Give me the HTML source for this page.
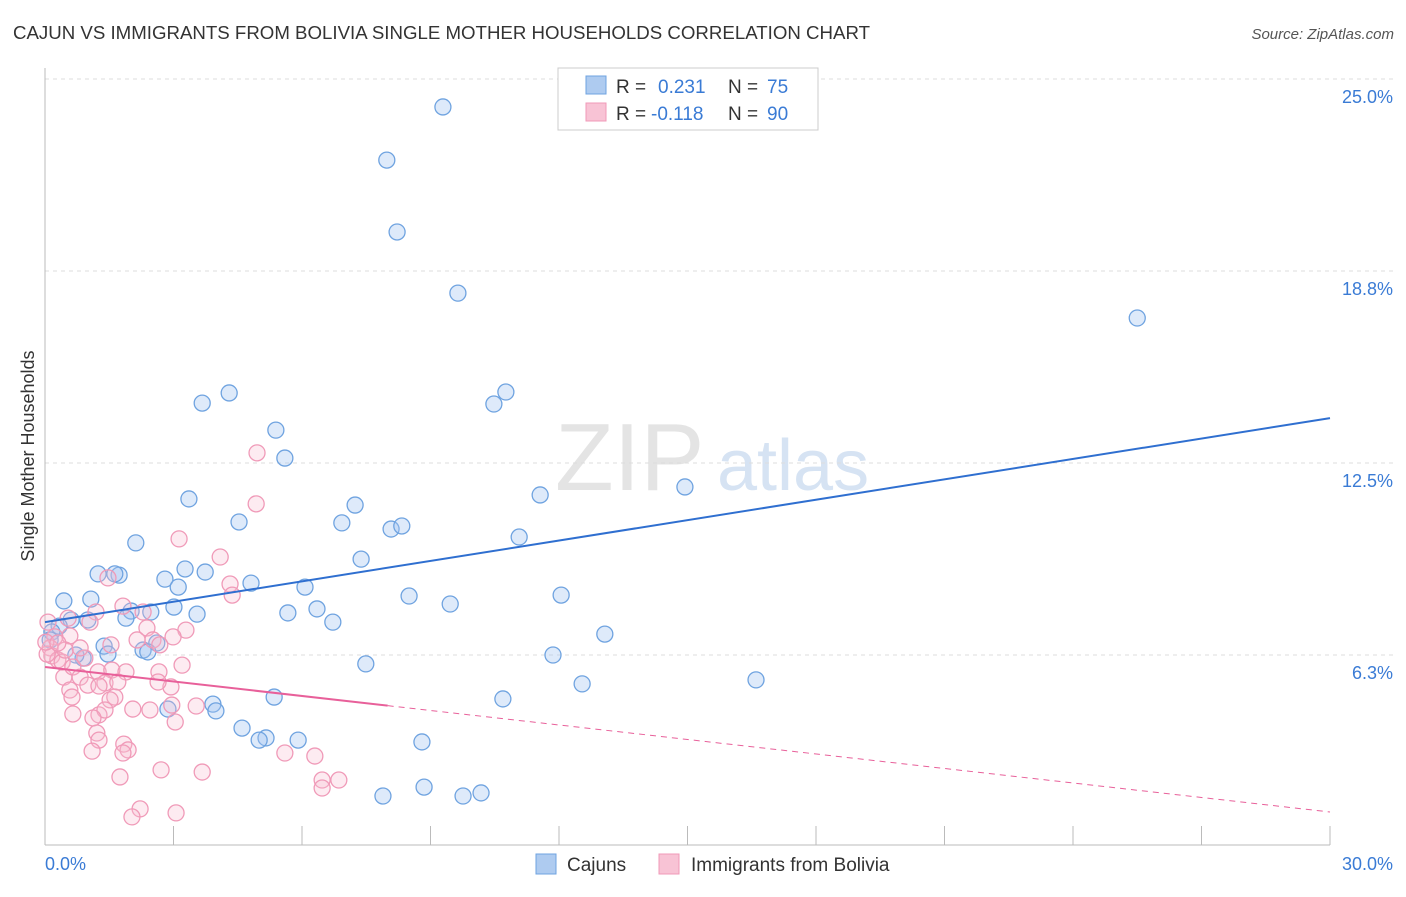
<!DOCTYPE html>
<html><head><meta charset="utf-8">
<style>
body{margin:0;background:#fff;font-family:"Liberation Sans",sans-serif;}
svg text{font-family:"Liberation Sans",sans-serif;}
</style></head>
<body>
<svg id="chart" width="1406" height="892" xmlns="http://www.w3.org/2000/svg">
<text x="13" y="39" font-size="18" fill="#333" textLength="857" lengthAdjust="spacingAndGlyphs">CAJUN VS IMMIGRANTS FROM BOLIVIA SINGLE MOTHER HOUSEHOLDS CORRELATION CHART</text>
<text x="1394" y="39" font-size="15" fill="#555" text-anchor="end" font-style="italic">Source: ZipAtlas.com</text>
<text transform="translate(34,456) rotate(-90)" font-size="18" fill="#333" text-anchor="middle">Single Mother Households</text>
<text x="555" y="490" font-size="96" fill="#e4e4e4" font-family="Liberation Serif">ZIP</text>
<text x="717" y="490" font-size="72" fill="#d6e3f3">atlas</text>
<g id="grid"></g><g id="marks"></g>
<g>
<rect x="558" y="68" width="260" height="62" fill="#fff" stroke="#ccc"/>
<rect x="586" y="76" width="20" height="18" fill="#aecbf0" stroke="#6fa3e0"/>
<rect x="586" y="103" width="20" height="18" fill="#f8c3d5" stroke="#f09ab8"/>
<text x="616" y="93" font-size="19" fill="#333">R =</text>
<text x="658" y="93" font-size="19" fill="#3a7bd5">0.231</text>
<text x="728" y="93" font-size="19" fill="#333">N =</text>
<text x="767" y="93" font-size="19" fill="#3a7bd5">75</text>
<text x="616" y="120" font-size="19" fill="#333">R =</text>
<text x="651" y="120" font-size="19" fill="#3a7bd5">-0.118</text>
<text x="728" y="120" font-size="19" fill="#333">N =</text>
<text x="767" y="120" font-size="19" fill="#3a7bd5">90</text>
</g>
<g>
<rect x="536" y="854" width="20" height="20" fill="#aecbf0" stroke="#6fa3e0"/>
<text x="567" y="871" font-size="19" fill="#333">Cajuns</text>
<rect x="659" y="854" width="20" height="20" fill="#f8c3d5" stroke="#f09ab8"/>
<text x="691" y="871" font-size="19" fill="#333">Immigrants from Bolivia</text>
</g>
</svg>
<script>
const yTicks=[6.25,12.5,18.75,25];
const yTickLabels=["6.3%","12.5%","18.8%","25.0%"];
const xTicks=[0,3,6,9,12,15,18,21,24,27,30];
const blueX=[9.29,7.98,8.22,9.64,25.50,4.30,3.67,10.76,10.48,5.39,5.60,14.94,11.56,3.36,7.24,4.53,6.93,8.08,8.33,11.07,2.12,7.38,3.27,1.24,1.73,2.80,3.74,4.81,3.11,6.07,8.50,12.05,9.46,0.44,1.07,2.01,2.47,3.01,3.55,5.67,6.35,6.72,0.61,1.00,1.89,0.33,0.16,13.07,1.38,2.61,2.29,2.40,1.47,0.89,11.86,7.49,16.60,12.54,5.35,10.69,2.87,3.92,3.99,4.60,5.16,5.00,5.91,8.80,7.89,8.85,9.76,10.18,1.63,0.72,0.12];
const blueY=[24.09,22.36,20.02,18.03,17.22,14.78,14.45,14.81,14.42,13.57,12.66,11.72,11.46,11.33,11.13,10.58,10.55,10.35,10.45,10.09,9.90,9.37,9.05,8.89,8.85,8.72,8.95,8.59,8.46,8.46,8.17,8.20,7.91,8.01,8.07,7.68,7.65,7.81,7.58,7.62,7.75,7.32,7.39,7.39,7.45,7.19,7.00,6.93,6.54,6.64,6.41,6.35,6.28,6.15,6.25,5.96,5.44,5.31,4.88,4.82,4.49,4.65,4.43,3.87,3.55,3.48,3.48,3.42,1.66,1.95,1.66,1.76,8.89,6.25,6.74];
const pinkX=[4.95,4.93,3.13,4.09,4.32,4.37,1.47,1.82,2.29,1.19,0.58,1.05,3.29,2.38,2.52,2.99,2.68,2.15,0.07,0.23,0.12,0.16,0.30,0.40,0.05,0.47,0.93,0.82,1.54,0.44,0.65,0.82,1.24,1.56,1.89,2.66,3.20,2.94,2.64,0.58,1.00,1.40,1.70,1.63,1.52,0.63,1.26,1.40,0.65,1.12,2.05,2.45,2.96,3.53,3.04,1.21,1.26,1.84,1.94,1.10,1.82,5.60,6.30,6.86,6.47,6.47,2.71,3.67,1.75,2.22,2.03,3.06,1.26,0.54,0.02,0.30];
const pinkY=[12.83,11.17,10.03,9.44,8.56,8.20,8.76,7.84,7.65,7.65,6.87,7.32,7.06,7.13,6.74,6.84,6.58,6.74,7.32,6.84,6.48,6.22,6.09,6.02,6.28,6.41,6.15,6.48,6.58,5.53,5.86,5.53,5.70,5.76,5.70,5.70,5.92,5.21,5.37,5.11,5.27,5.34,5.37,4.88,4.79,4.88,4.30,4.46,4.33,4.20,4.49,4.46,4.62,4.59,4.07,3.71,3.48,3.35,3.16,3.12,3.06,3.06,2.96,2.18,2.18,1.92,2.51,2.44,2.28,1.24,0.98,1.11,5.24,7.45,6.67,6.64];
const blueTrend=[7.32,13.96];
const pinkTrend=[5.86,1.14];
const pinkSolidEnd=[8];
const sx=v=>45+v/30*1285;
const sy=v=>847-v/25*768;
const NS="http://www.w3.org/2000/svg";
const grid=document.getElementById('grid'),marks=document.getElementById('marks');
function mk(tag,attrs,parent){const e=document.createElementNS(NS,tag);for(const k in attrs)e.setAttribute(k,attrs[k]);parent.appendChild(e);return e;}
yTicks.forEach((t,i)=>{
 const l=mk('line',{x1:45,x2:1393,y1:sy(t),y2:sy(t),stroke:'#ddd','stroke-dasharray':'4,4'},grid);
 
 
 const tx=mk('text',{x:1393,y:sy(t)+24,'font-size':18,fill:'#3a7bd5','text-anchor':'end'},grid);
 tx.textContent=yTickLabels[i];
 
 
});
const ax=mk('line',{x1:45,x2:1330,y1:845,y2:845,stroke:'#bbb'},grid);


const ay=mk('line',{x1:45,x2:45,y1:68,y2:845,stroke:'#bbb'},grid);


xTicks.forEach(t=>{
 const l=mk('line',{x1:sx(t),x2:sx(t),y1:826,y2:845,stroke:'#bbb'},grid);
 
 
});
const xl0=mk('text',{x:45,y:870,'font-size':18,fill:'#3a7bd5'},grid);xl0.textContent='0.0%';


const xl1=mk('text',{x:1393,y:870,'font-size':18,fill:'#3a7bd5','text-anchor':'end'},grid);xl1.textContent='30.0%';


blueX.forEach((x,i)=>{
 const c=mk('circle',{cx:sx(x),cy:sy(blueY[i]),r:8,fill:'rgba(160,195,240,0.35)',stroke:'#6fa3e0','stroke-width':1.3},marks);
 
 
});
pinkX.forEach((x,i)=>{
 const c=mk('circle',{cx:sx(x),cy:sy(pinkY[i]),r:8,fill:'rgba(248,190,210,0.3)',stroke:'#f09ab8','stroke-width':1.3},marks);
 
 
});
const bt=mk('line',{x1:sx(0),y1:sy(blueTrend[0]),x2:sx(30),y2:sy(blueTrend[1]),stroke:'#2f6fd0','stroke-width':2},marks);


const pe=pinkTrend[0]+(pinkTrend[1]-pinkTrend[0])*pinkSolidEnd[0]/30;
const pt=mk('line',{x1:sx(0),y1:sy(pinkTrend[0]),x2:sx(pinkSolidEnd[0]),y2:sy(pe),stroke:'#e8609a','stroke-width':2},marks);


const pd=mk('line',{x1:sx(pinkSolidEnd[0]),y1:sy(pe),x2:sx(30),y2:sy(pinkTrend[1]),stroke:'#e8609a','stroke-width':1,'stroke-dasharray':'6,5'},marks);


</script>
</body></html>
